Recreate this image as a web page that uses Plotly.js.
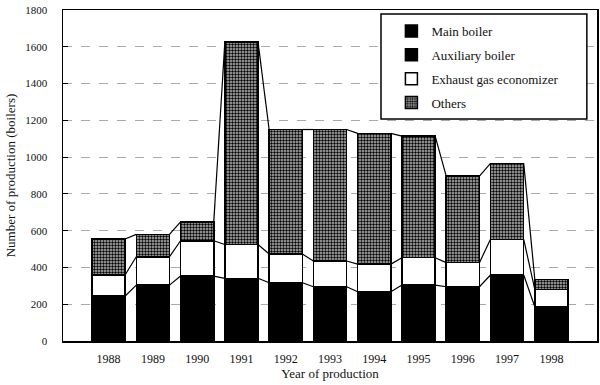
<!DOCTYPE html>
<html>
<head>
<meta charset="utf-8">
<script src="https://cdn.plot.ly/plotly-3.0.1.min.js"></script>
<style>html,body{margin:0;padding:0;background:#fff;}#chart{width:600px;height:385px;}</style>
</head>
<body>
<div id="chart"></div>
<script>
// Data
const years = ['1988','1989','1990','1991','1992','1993','1994','1995','1996','1997','1998'];
const mainBoiler = [245, 304, 353, 341, 317, 295, 268, 304, 295, 359, 186];
// Auxiliary boiler is drawn in the same black as Main boiler and cannot be separated in the picture
const auxiliaryBoiler = [0, 0, 0, 0, 0, 0, 0, 0, 0, 0, 0];
const exhaustEconomizer = [115, 154, 192, 184, 156, 140, 150, 149, 131, 194, 95];
const others = [195, 122, 103, 1100, 677, 715, 711, 661, 471, 413, 54];

const idx = years.map((_, i) => i);
const barWidth = 0.75;
const FONT = 'Liberation Serif, Times New Roman, serif';

const outline = {color: '#000', width: 1.5};
const traces = [
  {type: 'bar', name: 'Main boiler', x: idx, y: mainBoiler, width: barWidth,
   marker: {color: '#000', line: outline}, legendgroup: 'a', hoverinfo: 'skip'},
  {type: 'bar', name: 'Auxiliary boiler', x: idx, y: auxiliaryBoiler, width: barWidth,
   marker: {color: '#000', line: outline}, legendgroup: 'b', hoverinfo: 'skip'},
  {type: 'bar', name: 'Exhaust gas economizer', x: idx, y: exhaustEconomizer, width: barWidth,
   marker: {color: '#fff', line: outline}, legendgroup: 'c', hoverinfo: 'skip'},
  {type: 'bar', name: 'Others', x: idx, y: others, width: barWidth,
   marker: {color: '#9a9a9a', line: outline,
            pattern: {shape: '.', fgcolor: '#000', bgcolor: '#b8b8b8', size: 3, solidity: 0.5}},
   legendgroup: 'd', hoverinfo: 'skip'}
];

// Connector (series) lines between stacked levels of neighbouring bars
const levels = [];
let cum = idx.map(() => 0);
[mainBoiler, auxiliaryBoiler, exhaustEconomizer, others].forEach((s, k) => {
  cum = cum.map((c, i) => c + s[i]);
  if (k !== 1) levels.push(cum.slice());
});
const lx = [], ly = [];
levels.forEach(lv => {
  for (let i = 0; i < idx.length - 1; i++) {
    lx.push(idx[i] + barWidth / 2, idx[i + 1] - barWidth / 2, null);
    ly.push(lv[i], lv[i + 1], null);
  }
});
traces.push({type: 'scatter', mode: 'lines', x: lx, y: ly, showlegend: false,
  line: {color: '#000', width: 1.2}, hoverinfo: 'skip', connectgaps: false});

const layout = {
  width: 600, height: 385,
  margin: {l: 63, r: 3, t: 10, b: 44},
  paper_bgcolor: '#fff', plot_bgcolor: '#fff',
  barmode: 'stack',
  font: {family: FONT, color: '#111', size: 12},
  showlegend: true,
  legend: {x: 0.615, xanchor: 'left', y: 0.982, yanchor: 'top',
           bgcolor: 'rgba(0,0,0,0)', borderwidth: 0,
           traceorder: 'grouped', tracegroupgap: 4,
           font: {family: FONT, size: 13, color: '#111'}},
  xaxis: {range: [-1.03, 11.03], tickvals: idx, ticktext: years,
          showline: true, linecolor: '#000', linewidth: 1.5, mirror: true,
          ticks: '', showgrid: false, zeroline: false, ticklabelstandoff: 6,
          tickfont: {family: FONT, size: 12, color: '#111'},
          title: {text: 'Year of production', font: {family: FONT, size: 13, color: '#111'}, standoff: 1}},
  yaxis: {range: [0, 1800], dtick: 200, tick0: 0,
          showline: true, linecolor: '#000', linewidth: 1.5, mirror: true,
          ticks: 'inside', ticklen: 5, tickcolor: '#000',
          showgrid: true, gridcolor: '#aaa', griddash: 'dash', gridwidth: 1,
          zeroline: false, ticklabelstandoff: 12,
          tickfont: {family: FONT, size: 11, color: '#111'},
          title: {text: 'Number of production (boilers)', font: {family: FONT, size: 13, color: '#111'}, standoff: 6}},
  shapes: [{type: 'rect', xref: 'paper', yref: 'paper',
            x0: 0.5955, x1: 0.981, y0: 0.671, y1: 0.988,
            line: {color: '#000', width: 1.5}, fillcolor: '#fff', layer: 'above'}]
};

Plotly.newPlot('chart', traces, layout, {staticPlot: true, displayModeBar: false});
</script>
</body>
</html>
